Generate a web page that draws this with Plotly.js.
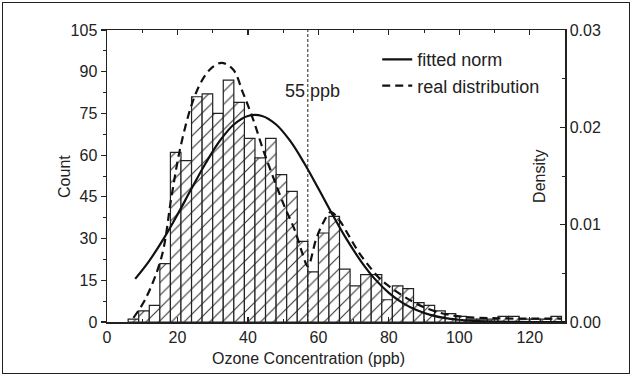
<!DOCTYPE html>
<html>
<head>
<meta charset="utf-8">
<script src="https://cdn.plot.ly/plotly-3.0.1.min.js"></script>
<style>
  html, body { margin: 0; padding: 0; background: #fff; }
  #frame { position: absolute; left: 2px; top: 2px; width: 626px; height: 370px; border: 1.5px solid #222; }
  #chart { position: absolute; left: 0; top: 0; width: 632px; height: 376px; }
</style>
</head>
<body>
<div id="chart"></div>
<div id="frame"></div>
<script>
// Histogram (bin width 3 ppb): bin centres and counts
const binCenters = [7.5, 10.5, 13.5, 16.5, 19.5, 22.5, 25.5, 28.5, 31.5, 34.5,
  37.5, 40.5, 43.5, 46.5, 49.5, 52.5, 55.5, 58.5, 61.5, 64.5,
  67.5, 70.5, 73.5, 76.5, 79.5, 82.5, 85.5, 88.5, 91.5, 94.5,
  97.5, 100.5, 103.5, 106.5, 109.5, 112.5, 115.5, 118.5, 121.5, 124.5, 127.5];
const counts = [1, 4, 6, 21, 61, 58, 81, 82, 75, 87,
  79, 66, 59, 66, 53, 47, 29, 18, 32, 38,
  19, 13, 17, 17, 8, 13, 12, 7, 6, 4,
  3, 2, 1, 1, 1, 2, 2, 1, 1, 1, 2];

// Fitted normal curve (density)
const normX = [8, 12, 16, 20, 24, 28, 32, 36, 40, 44, 48, 52, 56, 60, 64, 68, 72, 76, 80, 84, 88, 92, 96, 100, 104, 110, 120, 130];
const normDensity = [0.00443, 0.00629, 0.00851, 0.01103, 0.01371, 0.01631, 0.01860, 0.02029, 0.02117, 0.02117,
  0.02029, 0.01860, 0.01631, 0.01371, 0.01103, 0.00851, 0.00629, 0.00443, 0.00300, 0.00194,
  0.00120, 0.00071, 0.00040, 0.00023, 0.00011, 0.00004, 0.00000, 0.00000];

// Real (kernel) distribution (density)
const realX = [7.5, 11, 15.5, 18.3, 20.7, 24, 26.8, 29.7, 32.5, 35.8, 38.6, 41.5, 44.3, 47.1, 50.4, 53.3, 55.5, 57,
  59.4, 61.5, 63.5, 66, 68.8, 71.5, 74.5, 77.5, 80.2, 83.5, 86.8, 90, 93.4, 97, 101, 106, 112, 120, 129];
const realDensity = [0.00043, 0.00243, 0.00671, 0.01286, 0.01771, 0.02229, 0.02471, 0.02611, 0.02663, 0.02594,
  0.02354, 0.02080, 0.01771, 0.01494, 0.01186, 0.00943, 0.00700, 0.00571,
  0.00857, 0.01029, 0.01129, 0.01043, 0.00877, 0.00714, 0.00569, 0.00443, 0.00363, 0.00280, 0.00209,
  0.00151, 0.00106, 0.00074, 0.00054, 0.00043, 0.00037, 0.00034, 0.00034];

const thresholdX = 57;
const thresholdLabel = '55 ppb';

const FONT = 'Liberation Sans, Arial, sans-serif';
const INK = '#222';

const traces = [
  {
    type: 'bar', x: binCenters, y: counts, width: 3,
    marker: {
      color: '#ffffff',
      line: { color: INK, width: 1.2 },
      pattern: { shape: '/', fgcolor: '#333', bgcolor: '#ffffff', size: 9, solidity: 0.12 }
    },
    showlegend: false, hoverinfo: 'skip'
  },
  {
    type: 'scatter', mode: 'lines', x: normX, y: normDensity, yaxis: 'y2',
    name: 'fitted norm', line: { color: '#111', width: 2.2, shape: 'spline' }
  },
  {
    type: 'scatter', mode: 'lines', x: realX, y: realDensity, yaxis: 'y2',
    name: 'real distribution', line: { color: '#111', width: 2.2, shape: 'spline', dash: '8px,5px' }
  }
];

const layout = {
  width: 632, height: 376,
  margin: { l: 107, r: 67, t: 30, b: 54, pad: 0 },
  paper_bgcolor: '#fff', plot_bgcolor: '#fff',
  font: { family: FONT, size: 16, color: INK },
  bargap: 0,
  showlegend: true,
  legend: {
    x: 0.59, y: 0.962, xanchor: 'left', yanchor: 'top',
    bgcolor: 'rgba(0,0,0,0)', borderwidth: 0,
    font: { family: FONT, size: 18, color: INK },
    tracegroupgap: 0
  },
  xaxis: {
    range: [0, 130], dtick: 20, tick0: 0,
    showgrid: false, zeroline: false,
    showline: true, linecolor: INK, linewidth: 1.5, mirror: 'ticks',
    ticks: 'inside', ticklen: 5, tickwidth: 1.2, tickcolor: INK,
    minor: { dtick: 10, ticks: 'inside', ticklen: 3, tickcolor: INK, tickwidth: 1 },
    tickfont: { family: FONT, size: 16, color: INK }
  },
  yaxis: {
    range: [0, 105], dtick: 15, tick0: 0,
    showgrid: false, zeroline: false,
    showline: true, linecolor: INK, linewidth: 1.5,
    ticks: 'outside', ticklen: 5, tickwidth: 1.2, tickcolor: INK,
    minor: { dtick: 7.5, ticks: 'outside', ticklen: 3, tickcolor: INK, tickwidth: 1 },
    tickfont: { family: FONT, size: 16, color: INK }
  },
  yaxis2: {
    overlaying: 'y', side: 'right',
    range: [0, 0.03], dtick: 0.01, tick0: 0, tickformat: '.2f',
    showgrid: false, zeroline: false,
    showline: true, linecolor: INK, linewidth: 1.5,
    ticks: 'inside', ticklen: 5, tickwidth: 1.2, tickcolor: INK,
    minor: { dtick: 0.005, ticks: 'inside', ticklen: 3, tickcolor: INK, tickwidth: 1 },
    tickfont: { family: FONT, size: 16, color: INK }
  },
  shapes: [
    { type: 'line', xref: 'x', yref: 'paper', x0: thresholdX, x1: thresholdX, y0: 0, y1: 1,
      line: { color: INK, width: 1, dash: '3px,2px' } }
  ],
  annotations: [
    { xref: 'x', yref: 'y', x: thresholdX, y: 83, xshift: 5, text: thresholdLabel, showarrow: false,
      font: { family: FONT, size: 18, color: INK } },
    { xref: 'paper', yref: 'paper', x: 0.943, y: 0.5, xanchor: 'center', yanchor: 'middle',
      text: 'Density', textangle: -90, showarrow: false,
      font: { family: FONT, size: 16, color: INK } },
    { xref: 'paper', yref: 'paper', x: -0.094, y: 0.5, xanchor: 'center', yanchor: 'middle',
      text: 'Count', textangle: -90, showarrow: false,
      font: { family: FONT, size: 16, color: INK } },
    { xref: 'paper', yref: 'paper', x: 0.439, y: 0, xanchor: 'center', yanchor: 'top', yshift: -26,
      text: 'Ozone Concentration (ppb)', showarrow: false,
      font: { family: FONT, size: 16, color: INK } }
  ]
};

Plotly.newPlot('chart', traces, layout, { displayModeBar: false, staticPlot: true });
</script>
</body>
</html>
